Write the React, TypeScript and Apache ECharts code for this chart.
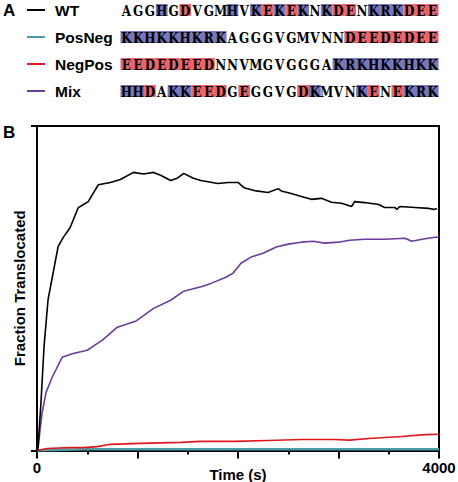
import React, { useEffect, useRef } from 'react';
import * as echarts from 'echarts';

const seqNames = ['WT', 'PosNeg', 'NegPos', 'Mix'];
const seqColors = ['#000000', '#4a9ba8', '#e3181f', '#6b3b9e'];
const sequences = [
  'AGGHGDVGMHVKEKEKNKDENKRKDEE',
  'KKHKKHKRKAGGGVGMVNNDEEDEDEE',
  'EEDEDEEDNNVMGVGGGAKRKHKKHKK',
  'HHDAKKEEDGEGGVGDKMVNKENEKRK',
];
const charMasks = [
  '...b.r...b.brbrb.brr.bbbrrr',
  'bbbbbbbbb..........rrrrrrrr',
  'rrrrrrrr..........bbbbbbbbb',
  'bbr.bbrrr.r....rb...br.rbbb',
];

const xTickLabels = [0, 4000];

const wtData = [
  [0, 0], [10, 0.01], [40, 0.15], [70, 0.32], [110, 0.465], [150, 0.53], [210, 0.628],
  [260, 0.656], [330, 0.687], [410, 0.748], [510, 0.767], [610, 0.819], [730, 0.826],
  [830, 0.835], [960, 0.857], [1060, 0.852], [1160, 0.857], [1230, 0.848], [1330, 0.832],
  [1400, 0.84], [1460, 0.854], [1550, 0.84], [1630, 0.832], [1800, 0.823], [1900, 0.826],
  [2000, 0.826], [2060, 0.81], [2180, 0.8], [2300, 0.795], [2400, 0.807], [2430, 0.8],
  [2530, 0.792], [2630, 0.783], [2730, 0.774], [2830, 0.777], [2930, 0.765], [3030, 0.762],
  [3130, 0.752], [3160, 0.767], [3260, 0.764], [3400, 0.758], [3460, 0.749], [3560, 0.749],
  [3580, 0.743], [3610, 0.752], [3760, 0.749], [3900, 0.746], [3950, 0.743], [3980, 0.746],
];

const posNegData = [
  [0, 0], [500, 0.004], [1000, 0.004], [2000, 0.004], [3000, 0.004], [4000, 0.004],
];

const negPosData = [
  [0, 0], [100, 0.006], [330, 0.009], [460, 0.009], [600, 0.012], [730, 0.019],
  [1030, 0.022], [1430, 0.025], [1630, 0.028], [1960, 0.028], [2300, 0.031],
  [2630, 0.034], [2960, 0.034], [3110, 0.032], [3300, 0.037], [3630, 0.043],
  [3860, 0.049], [4000, 0.05],
];

const mixData = [
  [0, 0], [10, 0.006], [30, 0.062], [50, 0.114], [90, 0.179], [150, 0.225], [250, 0.287],
  [360, 0.299], [500, 0.309], [650, 0.34], [800, 0.38], [980, 0.398], [1160, 0.438],
  [1330, 0.463], [1460, 0.491], [1650, 0.506], [1730, 0.515], [1880, 0.534], [1950, 0.546],
  [2030, 0.577], [2130, 0.596], [2250, 0.608], [2380, 0.627], [2500, 0.636], [2630, 0.642],
  [2750, 0.645], [2860, 0.639], [3000, 0.642], [3110, 0.648], [3260, 0.651], [3460, 0.651],
  [3660, 0.654], [3730, 0.645], [3830, 0.651], [3960, 0.657], [4000, 0.657],
];

const seriesData = [wtData, posNegData, negPosData, mixData];

const SANS = '"Liberation Sans", Arial, sans-serif';
const SEQ_FONT = '"DejaVu Serif", serif';
const BLUE_BG = '#7676ba';
const RED_BG = '#e8656c';

function buildGraphics() {
  const els: any[] = [];
  const rowY = [10, 37, 64, 91];
  const seqX0 = 120.5;
  const pitch = 11.78;
  els.push({ type: 'text', x: 3, y: 10, style: { text: 'A', font: `bold 17px ${SANS}`, fill: '#000', textVerticalAlign: 'middle', verticalAlign: 'middle' } });
  els.push({ type: 'text', x: 3, y: 132, style: { text: 'B', font: `bold 17px ${SANS}`, fill: '#000', textVerticalAlign: 'middle', verticalAlign: 'middle' } });
  seqNames.forEach((name, i) => {
    const y = rowY[i];
    els.push({ type: 'line', shape: { x1: 27, y1: y, x2: 45, y2: y }, style: { stroke: seqColors[i], lineWidth: 2 } });
    els.push({ type: 'text', x: 55, y, style: { text: name, font: `bold 15.5px ${SANS}`, fill: '#000', textVerticalAlign: 'middle', verticalAlign: 'middle' } });
    const mask = charMasks[i];
    let j = 0;
    while (j < mask.length) {
      const c = mask[j];
      if (c === '.') { j++; continue; }
      let k = j;
      while (k < mask.length && mask[k] === c) k++;
      els.push({
        type: 'rect',
        shape: { x: seqX0 + j * pitch, y: y - 6, width: (k - j) * pitch, height: 12 },
        style: { fill: c === 'b' ? BLUE_BG : RED_BG },
      });
      j = k;
    }
    const seq = sequences[i];
    for (let n = 0; n < seq.length; n++) {
      els.push({
        type: 'text',
        x: seqX0 + (n + 0.5) * pitch,
        y: y + 0.5,
        scaleX: 0.8,
        style: { text: seq[n], x: 0, y: 0, font: `bold 15px ${SEQ_FONT}`, fill: '#000', textAlign: 'center', textVerticalAlign: 'middle', align: 'center', verticalAlign: 'middle' },
      });
    }
  });
  return els;
}

export default function App() {
  const ref = useRef<HTMLDivElement>(null);
  useEffect(() => {
    if (!ref.current) return;
    const chart = echarts.init(ref.current, undefined, { renderer: 'svg' });
    chart.setOption({
      animation: false,
      backgroundColor: '#ffffff',
      grid: {
        left: 37, right: 19, top: 126, bottom: 31.5,
        outerBoundsMode: 'none', containLabel: false,
        show: true, borderColor: '#000', borderWidth: 2, backgroundColor: 'transparent',
      },
      xAxis: {
        type: 'value', min: 0, max: 4000, interval: 1000,
        axisLine: { lineStyle: { color: '#000', width: 2 } },
        axisTick: { show: true, length: 8, lineStyle: { color: '#000', width: 2 } },
        minorTick: { show: true, splitNumber: 2, length: 4, lineStyle: { color: '#000', width: 2 } },
        splitLine: { show: false },
        axisLabel: {
          margin: 9, color: '#000', fontWeight: 'bold', fontSize: 15, fontFamily: SANS,
          showMinLabel: true, showMaxLabel: true,
          formatter: (v: number) => (xTickLabels.includes(v) ? String(v) : ''),
        },
        name: 'Time (s)', nameLocation: 'middle', nameGap: 16, nameMoveOverlap: false,
        nameTextStyle: { color: '#000', fontWeight: 'bold', fontSize: 15, fontFamily: SANS },
      },
      yAxis: {
        type: 'value', min: 0, max: 1, interval: 1,
        axisLine: { show: true, lineStyle: { color: '#000', width: 2 } },
        axisTick: { show: true, length: 6, lineStyle: { color: '#000', width: 2 } },
        splitLine: { show: false },
        axisLabel: { show: false },
        name: 'Fraction Translocated', nameLocation: 'middle', nameGap: 10, nameMoveOverlap: false,
        nameTextStyle: { color: '#000', fontWeight: 'bold', fontSize: 15, fontFamily: SANS },
      },
      series: seqNames.map((name, i) => ({
        name, type: 'line', data: seriesData[i], showSymbol: false, symbol: 'none',
        lineStyle: { color: seqColors[i], width: i === 1 ? 2.5 : 1.6 },
        z: i === 0 ? 5 : 3,
      })),
      graphic: buildGraphics(),
    });
    return () => chart.dispose();
  }, []);
  return <div ref={ref} style={{ position: 'fixed', left: 0, top: 0, width: 458, height: 482 }} />;
}
